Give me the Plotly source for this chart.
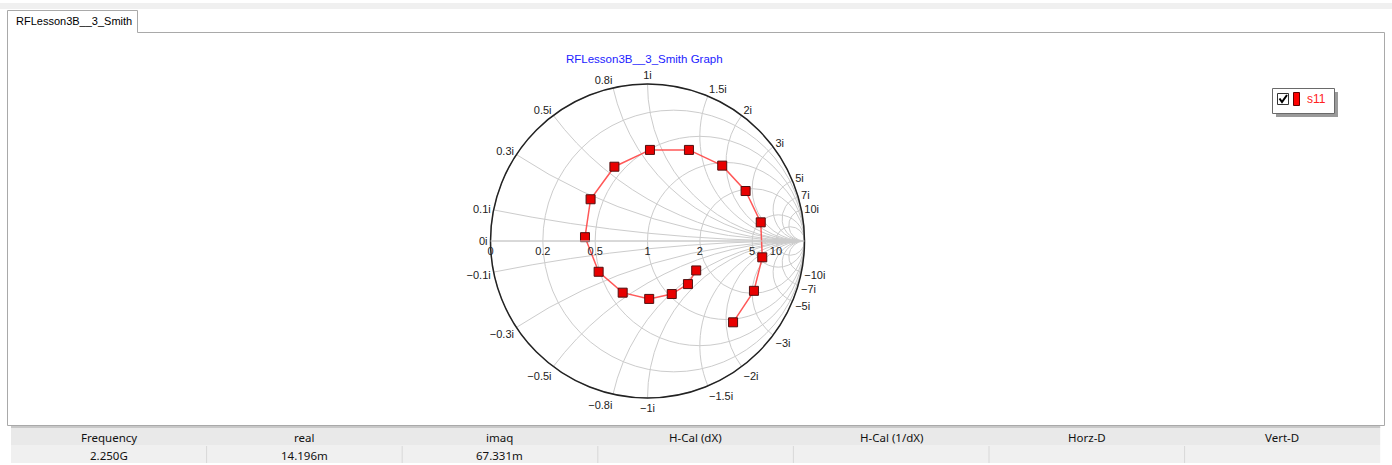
import plotly.graph_objects as go

W, H = 1392, 465

# s11 sweep, normalized impedance z = r + jx (in sweep order)
s11_real = [1.70, 1.37, 1.04, 0.775, 0.598, 0.492, 0.430, 0.414, 0.433,
            0.508, 0.676, 1.075, 2.10, 5.07, 5.47, 2.15, 0.915]
s11_imag = [-0.734, -0.876, -0.815, -0.662, -0.454, -0.223, 0.025, 0.276, 0.560,
            0.889, 1.321, 1.901, 2.63, 2.59, -2.50, -3.105, -2.180]

real_ticks = [0, 0.2, 0.5, 1, 2, 5, 10]
imag_ticks = [-10, -7, -5, -3, -2, -1.5, -1, -0.8, -0.5, -0.3, -0.1, 0,
              0.1, 0.3, 0.5, 0.8, 1, 1.5, 2, 3, 5, 7, 10]

tab_label = "RFLesson3B__3_Smith"
chart_title = "RFLesson3B__3_Smith Graph"
trace_name = "s11"

table_headers = ["Frequency", "real", "imaq", "H-Cal (dX)", "H-Cal (1/dX)", "Horz-D", "Vert-D"]
table_values = ["2.250G", "14.196m", "67.331m", "", "", "", ""]


def px(x):
    return x / W


def py(y):
    return 1 - y / H


shapes = []
annotations = []


def rect(x0, y0, x1, y1, fill=None, line=None, lw=1, layer="below"):
    shapes.append(dict(type="rect", xref="paper", yref="paper",
                       x0=px(x0), x1=px(x1), y0=py(y0), y1=py(y1),
                       fillcolor=fill or "rgba(0,0,0,0)",
                       line=dict(color=line or "rgba(0,0,0,0)", width=lw if line else 0),
                       layer=layer))


def hline(x0, x1, y, color, lw=1):
    shapes.append(dict(type="line", xref="paper", yref="paper",
                       x0=px(x0), x1=px(x1), y0=py(y), y1=py(y),
                       line=dict(color=color, width=lw), layer="below"))


def vline(x, y0, y1, color, lw=1):
    shapes.append(dict(type="line", xref="paper", yref="paper",
                       x0=px(x), x1=px(x), y0=py(y0), y1=py(y1),
                       line=dict(color=color, width=lw), layer="below"))


def text(x, y, s, size=11, color="#000", family="Liberation Sans", xanchor="center"):
    annotations.append(dict(xref="paper", yref="paper", x=px(x), y=py(y), text=s,
                            showarrow=False, xanchor=xanchor, yanchor="middle",
                            font=dict(size=size, color=color, family=family)))


# window chrome: tab strip, tab and panel
rect(0, 3, W, 9, fill="#f0f0f0")
rect(7.5, 32.5, 1384.5, 425.5, fill="#ffffff", line="#a9a9a9")
rect(7.5, 10.5, 137.5, 33, fill="#ffffff")
hline(7.5, 137.5, 10.5, "#a9a9a9")
vline(7.5, 10.5, 33, "#a9a9a9")
vline(137.5, 10.5, 32.5, "#a9a9a9")
text(14, 21, tab_label, size=11, color="#000", xanchor="left")

# readout table
col_x0, col_w = 11, 195.6
rect(col_x0, 427, col_x0 + col_w * 7, 445, fill="#e9e9e9")
hline(col_x0, col_x0 + col_w * 7, 427, "#c8c8c8", lw=2)
rect(col_x0, 445, col_x0 + col_w * 7, 463, fill="#f0f0f0")
for i, (hdr, val) in enumerate(zip(table_headers, table_values)):
    cx = col_x0 + col_w * (i + 0.5)
    if i > 0:
        vline(col_x0 + col_w * i, 446, 463, "#d8d8d8")
    text(cx, 437, hdr, size=11.5, color="#111", family="Noto Sans")
    if val:
        text(cx, 455, val, size=11.5, color="#111", family="Noto Sans")

# legend box
rect(1276, 92, 1338, 117, fill="#9a9a9a")
rect(1272.5, 88.5, 1334.5, 113.5, fill="#ffffff", line="#6a6a6a")
rect(1277.5, 93.5, 1288.5, 104.5, fill="#ffffff", line="#333333")
shapes.append(dict(type="path", xref="paper", yref="paper",
                   path=f"M {px(1279.5)},{py(98.5)} L {px(1282)},{py(102)} L {px(1287)},{py(95)}",
                   line=dict(color="#000", width=2)))
rect(1293.5, 92.5, 1299.5, 105.5, fill="#ff0000", line="#600000")
text(1305, 99, trace_name, size=12, color="#ff2020", xanchor="left")

# chart title
text(644, 59, chart_title, size=11.5, color="#2222ff")

# Smith chart placement: center (647.5, 241), radius 157
cx, cy, R = 647.5, 241, 157
smith = dict(
    domain=dict(x=[px(cx - R), px(cx + R)], y=[py(cy + R), py(cy - R)]),
    bgcolor="rgba(0,0,0,0)",
    realaxis=dict(tickvals=real_ticks, gridcolor="#cccccc", linecolor="#cccccc",
                  showline=True, ticks="", tickangle=0, side="bottom",
                  tickfont=dict(family="Liberation Sans", size=11, color="#222")),
    imaginaryaxis=dict(tickvals=imag_ticks, gridcolor="#cccccc", linecolor="#222222",
                       linewidth=1.5, ticks="", ticksuffix="i",
                       tickfont=dict(family="Liberation Sans", size=11, color="#222")),
)

# no infinity marker at the open-circuit end of the real axis
rect(cx + R + 2.5, cy - 8, cx + R + 20, cy + 8, fill="#ffffff", layer="above")

fig = go.Figure()
fig.add_trace(go.Scattersmith(
    real=s11_real, imag=s11_imag, name=trace_name, mode="lines+markers",
    line=dict(color="rgba(255,70,70,0.9)", width=1.5),
    marker=dict(symbol="square", size=9, color="#e80000",
                line=dict(color="#501010", width=1)),
    showlegend=False,
))

fig.update_layout(
    width=W, height=H, margin=dict(l=0, r=0, t=0, b=0),
    paper_bgcolor="#ffffff",
    smith=smith,
    shapes=shapes,
    annotations=annotations,
)

fig.write_html("out.html")
